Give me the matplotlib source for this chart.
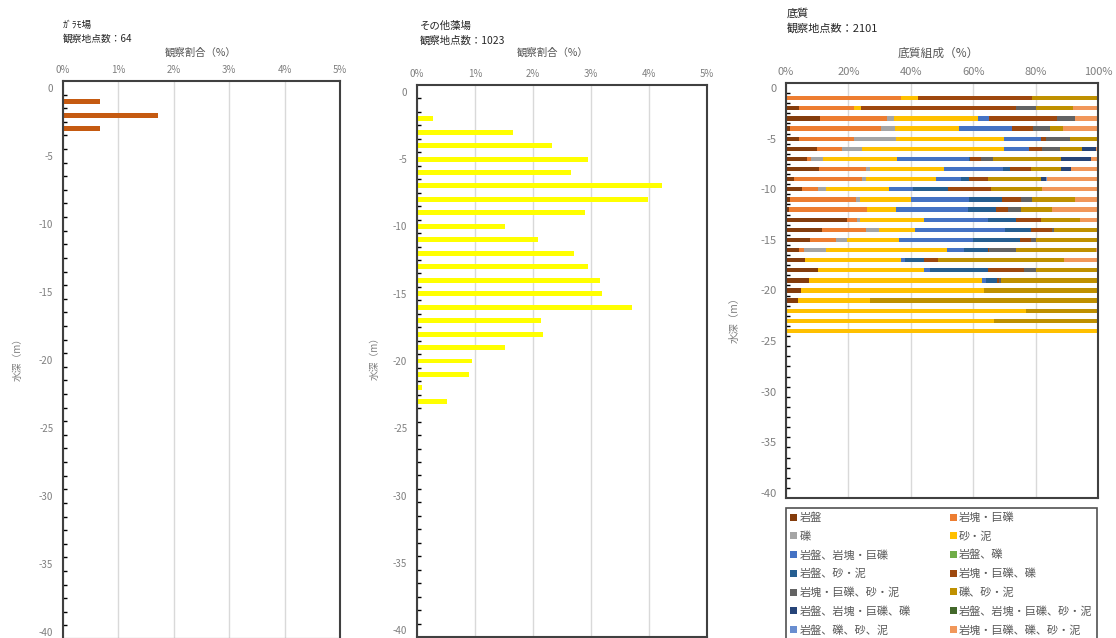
"""
藻場・底質の水深別分布（3パネル）
"""
import numpy as np
import matplotlib
matplotlib.use("Agg")
import matplotlib.pyplot as plt
import matplotlib.ticker as mticker
from matplotlib.patches import Patch

plt.rcParams["font.family"] = ["Noto Sans CJK JP", "DejaVu Sans"]
plt.rcParams["axes.unicode_minus"] = False

W, H = 1116, 638

# --- ｶﾞﾗﾓ場 ---
depth_garamo = [-1, -2, -3]
ratio_garamo = [0.66, 1.71, 0.66]

# --- その他藻場 ---
depth_other = [-2, -3, -4, -5, -6, -7, -8, -9, -10, -11, -12,
               -13, -14, -15, -16, -17, -18, -19, -20, -21, -22, -23]
ratio_other = [0.28, 1.65, 2.32, 2.94, 2.66, 4.23, 3.99, 2.90, 1.51, 2.09, 2.71,
               2.94, 3.15, 3.19, 3.70, 2.14, 2.18, 1.51, 0.94, 0.89, 0.09, 0.51]

# --- 底質 (depth -1 .. -24) ---
depth_sub = [-1, -2, -3, -4, -5, -6, -7, -8, -9, -10, -11, -12,
             -13, -14, -15, -16, -17, -18, -19, -20, -21, -22, -23, -24]
sub_labels = ["岩盤", "岩塊・巨礫", "礫", "砂・泥", "岩盤、岩塊・巨礫", "岩盤、礫",
              "岩盤、砂・泥", "岩塊・巨礫、礫", "岩塊・巨礫、砂・泥", "礫、砂・泥",
              "岩盤、岩塊・巨礫、礫", "岩盤、岩塊・巨礫、砂・泥", "岩盤、礫、砂、泥",
              "岩塊・巨礫、礫、砂・泥"]
sub_colors = ["#843C0C", "#ED7D31", "#A5A5A5", "#FFC000", "#4472C4", "#70AD47",
              "#255E91", "#9E480E", "#636363", "#BF9000", "#264478", "#43682B",
              "#698ED0", "#F1975A"]

bedrock      = [0, 4.1, 11.0, 1.4, 4.3, 9.8, 6.8, 10.5, 2.5, 5.0, 1.4, 1.1,
                19.7, 11.6, 7.6, 4.3, 6.2, 10.3, 7.5, 4.8, 3.7, 0, 0, 0]
boulder      = [37.0, 17.8, 21.5, 29.2, 17.6, 8.0, 1.3, 15.0, 21.7, 5.2, 21.0, 25.0,
                3.0, 14.0, 8.3, 1.6, 0, 0, 0, 0, 0, 0, 0, 0]
gravel       = [0, 0, 2.2, 4.2, 13.4, 6.6, 3.7, 1.3, 1.5, 2.5, 1.3, 0,
                0.9, 4.2, 3.7, 6.9, 0, 0, 0, 0, 0, 0, 0, 0]
sand_mud     = [5.2, 2.1, 26.7, 20.8, 34.5, 45.5, 23.9, 23.9, 22.3, 20.4, 16.5, 9.0,
                20.5, 11.6, 16.7, 38.9, 30.8, 33.8, 55.4, 58.8, 23.3, 76.9, 66.8, 100.0]
rock_boulder = [0, 0, 3.6, 16.8, 11.8, 8.1, 22.8, 18.7, 8.2, 7.5, 18.6, 23.1,
                20.8, 28.8, 23.7, 5.2, 1.1, 2.2, 1.2, 0, 0, 0, 0, 0]
rock_gravel  = [0, 0, 0, 0, 0, 0, 0, 0, 0, 0, 0, 0,
                0, 0, 0, 0, 0, 0, 0, 0, 0, 0, 0, 0]
rock_sand    = [0, 0, 0, 0, 0, 0, 0.4, 2.4, 2.6, 11.2, 10.3, 9.0,
                8.7, 8.4, 14.9, 7.7, 6.2, 18.5, 3.6, 0, 0, 0, 0, 0]
boulder_grav = [36.8, 49.8, 21.7, 6.9, 1.6, 4.1, 3.7, 6.6, 5.8, 14.0, 6.1, 3.8,
                8.0, 6.5, 3.6, 0.4, 4.4, 11.6, 0.7, 0, 0, 0, 0, 0]
boulder_sand = [0, 6.2, 6.0, 5.4, 7.7, 5.8, 3.6, 0, 0, 0, 3.6, 4.2,
                0, 0.7, 1.7, 8.7, 0, 3.7, 0.5, 0, 0, 0, 0, 0]
gravel_sand  = [21.0, 12.1, 0, 4.2, 9.1, 7.1, 21.8, 9.8, 17.1, 16.3, 13.8, 9.9,
                12.6, 14.2, 19.8, 25.6, 40.5, 19.9, 31.1, 36.4, 73.0, 23.1, 33.2, 0]
rock_bld_grv = [0, 0, 0, 0, 0, 4.3, 9.7, 3.1, 1.7, 0, 0, 0,
                0, 0, 0, 0, 0, 0, 0, 0, 0, 0, 0, 0]
rock_bld_snd = [0, 0, 0, 0, 0, 0, 0, 0, 0, 0, 0, 0,
                0, 0, 0, 0, 0, 0, 0, 0, 0, 0, 0, 0]
rock_grv_snd = [0, 0, 0, 0, 0, 0, 0, 0, 0.4, 0, 0, 0,
                0, 0, 0, 0, 0, 0, 0, 0, 0, 0, 0, 0]
bld_grv_snd  = [0, 7.9, 7.3, 11.1, 0, 0.7, 2.3, 8.7, 16.2, 17.9, 7.4, 14.9,
                5.8, 0, 0, 0.7, 10.8, 0, 0, 0, 0, 0, 0, 0]

sub_series = [bedrock, boulder, gravel, sand_mud, rock_boulder, rock_gravel,
              rock_sand, boulder_grav, boulder_sand, gravel_sand, rock_bld_grv,
              rock_bld_snd, rock_grv_snd, bld_grv_snd]

GRAY_TXT = "#7F7F7F"
LABEL_TXT = "#595959"
TITLE_TXT = "#262626"
SPINE = "#404040"


def px_axes(left, right, top, bottom):
    return [left / W, 1 - bottom / H, (right - left) / W, (bottom - top) / H]


def style_axis(ax, xmax, xstep, tick_fs):
    ax.set_xlim(0, xmax)
    ax.set_ylim(-40.5, 0.5)
    ax.xaxis.tick_top()
    ax.xaxis.set_major_locator(mticker.MultipleLocator(xstep))
    ax.xaxis.set_major_formatter(mticker.FuncFormatter(lambda x, _: f"{x:.0f}%"))
    ax.tick_params(axis="x", length=0, pad=4, labelsize=tick_fs, labelcolor=GRAY_TXT)
    ax.set_yticks([0, -5, -10, -15, -20, -25, -30, -35, -40])
    ax.set_yticks(np.arange(-0.5, -40.0, -1.0), minor=True)
    ax.tick_params(axis="y", which="major", length=0, pad=7,
                   labelsize=tick_fs, labelcolor=GRAY_TXT)
    ax.tick_params(axis="y", which="minor", direction="in", length=3,
                   width=1, color="black")
    ax.xaxis.grid(True, color="#D9D9D9", linewidth=1)
    ax.set_axisbelow(True)
    for sp in ax.spines.values():
        sp.set_color(SPINE)
        sp.set_linewidth(1.5)


fig = plt.figure(figsize=(W / 100, H / 100), dpi=100)

# Panel 1
ax1 = fig.add_axes(px_axes(63, 340, 81, 639))
ax1.barh(depth_garamo, ratio_garamo, height=0.37, color="#C55A11")
style_axis(ax1, 5, 1, 7)
fig.text(63 / W, 1 - 25 / H, "ｶﾞﾗﾓ場", fontsize=7, color=TITLE_TXT, va="center")
fig.text(63 / W, 1 - 39 / H, "観察地点数：64", fontsize=7, color=TITLE_TXT, va="center")
fig.text(201 / W, 1 - 53 / H, "観察割合（%）", fontsize=7.5, color=LABEL_TXT,
         ha="center", va="center")
fig.text(18 / W, 1 - 357 / H, "水深（m）", fontsize=7, color=GRAY_TXT,
         rotation=90, ha="center", va="center")

# Panel 2
ax2 = fig.add_axes(px_axes(417, 707, 85, 637))
ax2.barh(depth_other, ratio_other, height=0.37, color="#FFFF00")
style_axis(ax2, 5, 1, 7)
fig.text(420 / W, 1 - 26 / H, "その他藻場", fontsize=7.5, color=TITLE_TXT, va="center")
fig.text(420 / W, 1 - 41 / H, "観察地点数：1023", fontsize=7.5, color=TITLE_TXT, va="center")
fig.text(553 / W, 1 - 53 / H, "観察割合（%）", fontsize=7.5, color=LABEL_TXT,
         ha="center", va="center")
fig.text(375 / W, 1 - 356 / H, "水深（m）", fontsize=7, color=GRAY_TXT,
         rotation=90, ha="center", va="center")

# Panel 3
ax3 = fig.add_axes(px_axes(786, 1098, 83, 498))
left = np.zeros(len(depth_sub))
for vals, col, lab in zip(sub_series, sub_colors, sub_labels):
    ax3.barh(depth_sub, vals, left=left, height=0.42, color=col, label=lab)
    left = left + np.array(vals)
style_axis(ax3, 100, 20, 8)
fig.text(787 / W, 1 - 13 / H, "底質", fontsize=8, color=TITLE_TXT, va="center")
fig.text(787 / W, 1 - 28 / H, "観察地点数：2101", fontsize=8, color=TITLE_TXT, va="center")
fig.text(938 / W, 1 - 53 / H, "底質組成（%）", fontsize=8.5, color=LABEL_TXT,
         ha="center", va="center")
fig.text(735 / W, 1 - 317 / H, "水深（m）", fontsize=7.5, color=GRAY_TXT,
         rotation=90, ha="center", va="center")

# legend: row-major order, two columns
order = [0, 2, 4, 6, 8, 10, 12, 1, 3, 5, 7, 9, 11, 13]
handles = [Patch(facecolor=sub_colors[i], edgecolor="none") for i in order]
labels = [sub_labels[i] for i in order]
leg = fig.legend(handles, labels, ncol=2, loc="upper left",
                 bbox_to_anchor=(786 / W, 1 - 508 / H, (1097 - 786) / W, 0),
                 mode="expand", fontsize=8, frameon=True, fancybox=False,
                 handlelength=0.6, handleheight=0.6, handletextpad=0.2,
                 labelspacing=0.72, borderpad=0.4, borderaxespad=0,
                 columnspacing=0.5, labelcolor=LABEL_TXT)
leg.get_frame().set_edgecolor("#262626")
leg.get_frame().set_linewidth(1.2)

fig.savefig("out.png", dpi=100)
plt.close(fig)
